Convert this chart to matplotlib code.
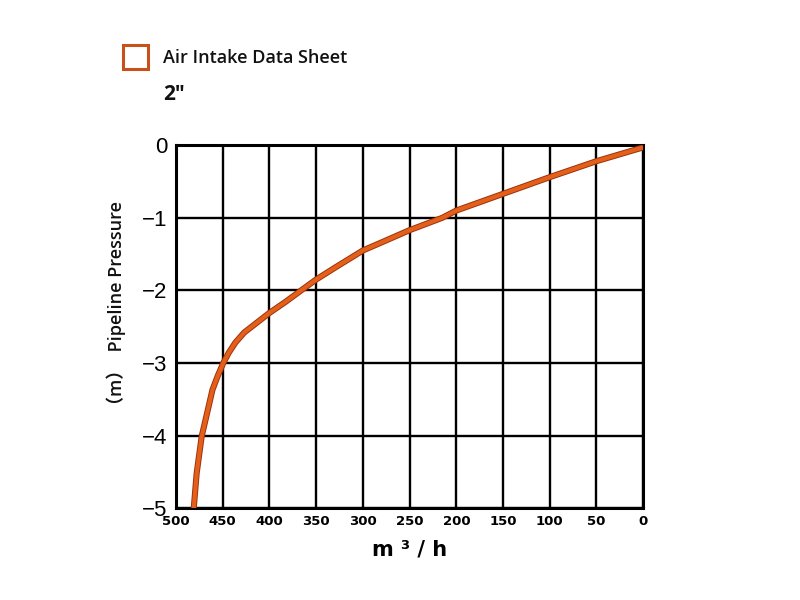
import matplotlib
matplotlib.use("Agg")
import matplotlib.pyplot as plt
from matplotlib.patches import Rectangle

# values
flow = [0, 50, 100, 150, 200, 215, 250, 282, 300, 329, 350, 365, 383, 400, 414, 427,
        436.5, 443.6, 449.4, 455.4, 461, 466, 472.5, 477.9, 481]
pressure = [-0.03, -0.22, -0.44, -0.67, -0.9, -1.0, -1.17, -1.35, -1.45, -1.68, -1.85,
            -1.99, -2.16, -2.31, -2.45, -2.58, -2.72, -2.86, -3.0, -3.18, -3.37, -3.65,
            -4.01, -4.52, -5.0]
x_ticks = [500, 450, 400, 350, 300, 250, 200, 150, 100, 50, 0]
y_ticks = [0, -1, -2, -3, -4, -5]
series_name = "Air Intake Data Sheet"
size_label = '2"'

ORANGE = "#e4601a"; DARK = "#9c320c"

fig = plt.figure(figsize=(8, 6), dpi=100)
ax = fig.add_axes([0.22, 0.153, 0.584, 0.605])

ax.plot(flow, pressure, color=DARK, lw=4.4, solid_capstyle="butt",
        solid_joinstyle="round", zorder=3)
ax.plot(flow, pressure, color=ORANGE, lw=3.0, solid_capstyle="butt",
        solid_joinstyle="round", zorder=4)

ax.set_xlim(500, 0)
ax.set_ylim(-5, 0)
ax.set_xticks(x_ticks)
ax.set_xticklabels([str(v) for v in x_ticks], fontsize=9.5, fontweight="bold",
                   family="DejaVu Sans")
ax.set_yticks(y_ticks)
ax.set_yticklabels([str(v).replace("-", "\u2212") for v in y_ticks],
                   fontsize=16, family="Liberation Sans")
ax.tick_params(axis="y", length=0, pad=6)
ax.tick_params(axis="x", length=0, pad=5)
ax.grid(True, color="black", lw=1.7)
ax.set_axisbelow(True)
for s in ax.spines.values():
    s.set_linewidth(2.2)

ax.set_xlabel("m \u00b3 / h", fontsize=15, fontweight="bold", labelpad=8)
ax.set_ylabel("（m）  Pipeline Pressure", fontsize=13, fontweight="semibold",
              family=["Open Sans", "Noto Sans CJK SC"], color="#111111")
ax.yaxis.set_label_coords(-0.108, 0.553)

# legend-like header
fig.patches.append(Rectangle((123 / 800, 1 - 69 / 600), 25 / 800, 24 / 600,
                             transform=fig.transFigure, facecolor="white",
                             edgecolor="#c8501a", lw=2.2))
fig.text(163 / 800, 1 - 58 / 600, series_name, fontsize=13, va="center",
         fontweight="semibold", family="Open Sans", color="#111111")
fig.text(163 / 800, 1 - 95 / 600, size_label, fontsize=15, va="center",
         fontweight="bold", family="Open Sans", color="#111111")

fig.savefig("out.png", dpi=100, facecolor="white")
